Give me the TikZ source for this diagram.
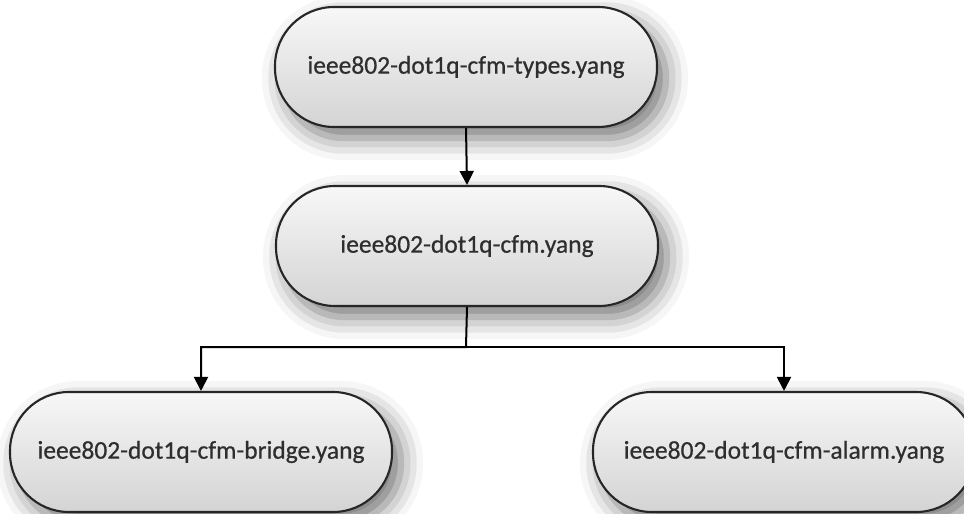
\documentclass[tikz,border=0pt]{standalone}
\usepackage{fontspec}
\setmainfont{Carlito}[FakeBold=0.6]
\usetikzlibrary{arrows.meta,shadows.blur}
\definecolor{edgegray}{HTML}{262626}
\definecolor{texgray}{HTML}{2E2E2E}
\tikzset{
  pill/.style={draw=edgegray, line width=2.1pt, rounded corners=59pt,
    minimum width=382pt, minimum height=120pt, inner sep=0pt,
    top color=gray!6, bottom color=gray!34, text=texgray,
    font=\fontsize{25.5}{30}\selectfont,
    blur shadow={shadow xshift=9pt, shadow yshift=-11pt, shadow blur radius=22pt, shadow opacity=55}},
  link/.style={draw=black, line width=2pt, -{Triangle[width=14pt,length=14pt]}}
}
\begin{document}
\begin{tikzpicture}[x=1pt,y=-1pt]
\useasboundingbox (0,0) rectangle (964,514);
\node[pill] (types) at (466,67) {ieee802-dot1q-cfm-types.yang};
\node[pill] (cfm) at (467,246) {ieee802-dot1q-cfm.yang};
\node[pill] (bridge) at (201,452) {ieee802-dot1q-cfm-bridge.yang};
\node[pill] (alarm) at (784,452) {ieee802-dot1q-cfm-alarm.yang};
\coordinate (split) at (466,347);
\draw[link] (types.south) -- (cfm.north);
\draw[link] (cfm.south) -- (split) -| (bridge.north);
\draw[link] (split) -| (alarm.north);
\end{tikzpicture}
\end{document}
